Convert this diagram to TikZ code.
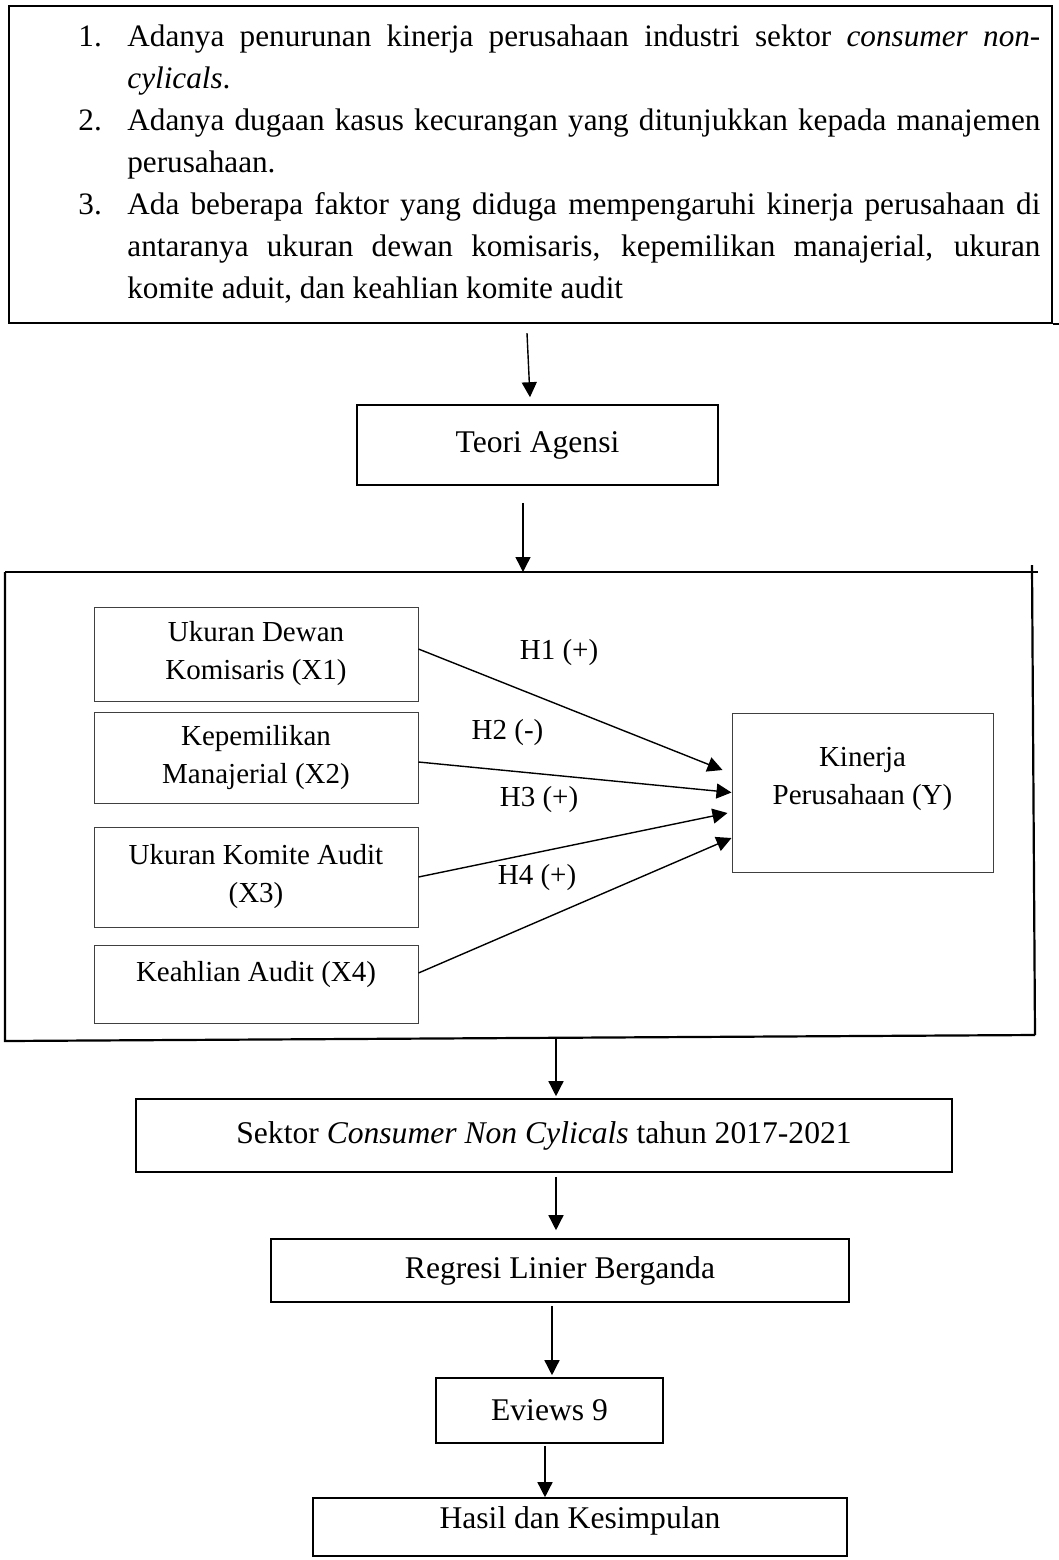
\documentclass[tikz,border=0pt]{standalone}
\usepackage{fontspec}
\setmainfont{Liberation Serif}
\usetikzlibrary{arrows.meta}

\begin{document}
\begin{tikzpicture}[x=0.5pt, y=-0.5pt,
    kotak/.style={draw, line width=0.8pt, inner sep=0pt, align=center, font=\fontsize{15.8}{19}\selectfont},
    variabel/.style={kotak, draw=black!75, line width=0.5pt, minimum width=162pt, font=\fontsize{14.5}{19}\selectfont},
    panah/.style={line width=0.7pt, -{Triangle[length=7.5pt, width=7.5pt]}},
    bingkai/.style={line width=1.1pt},
    hipotesis/.style={font=\fontsize{14.5}{19}\selectfont}]

    \useasboundingbox (0,0) rectangle (1059,1560);

    % Latar belakang masalah
    \node[draw, bingkai, minimum width=521.5pt, minimum height=158.5pt, inner sep=0pt] (masalah) at (530.5,164.5) {};
    \draw[bingkai] (masalah.south east) -- ++(7,0);
    \node[anchor=base west, text width=481pt, align=justify, inner sep=0pt, font=\fontsize{15.6}{21}\selectfont] (daftar) at (78,46) {%
        \hangindent=24.5pt\hangafter=1\makebox[24.5pt][l]{1.}Adanya penurunan kinerja perusahaan industri sektor \textit{consumer non-}\linebreak\textit{cylicals}.\par
        \hangindent=24.5pt\hangafter=1\makebox[24.5pt][l]{2.}Adanya dugaan kasus kecurangan yang ditunjukkan kepada manajemen\linebreak perusahaan.\par
        \hangindent=24.5pt\hangafter=1\makebox[24.5pt][l]{3.}Ada beberapa faktor yang diduga mempengaruhi kinerja perusahaan di\linebreak antaranya ukuran dewan komisaris, kepemilikan manajerial, ukuran\linebreak komite aduit, dan keahlian komite audit\par};

    \node[kotak, minimum width=180.5pt, minimum height=40pt] (teori) at (537.5,445) {Teori Agensi};

    % Bingkai variabel
    \draw[bingkai] (5,572) -- (1038,572);
    \draw[bingkai] (1032,565) -- (1035,1035);
    \draw[bingkai] (5,572) -- (5,1041) -- (1035,1035);
    \coordinate (bingkaiAtas) at (523,572);
    \coordinate (bingkaiBawah) at (556,1039);

    \node[variabel, minimum height=47pt] (x1) at (256,654) {Ukuran Dewan\\Komisaris (X1)};
    \node[variabel, minimum height=45.5pt] (x2) at (256,757.5) {Kepemilikan\\Manajerial (X2)};
    \node[variabel, minimum height=50pt] (x3) at (256,877) {Ukuran Komite Audit\\(X3)};
    \node[variabel, minimum height=39pt] (x4) at (256,984) {\raisebox{1.5pt}[0pt][0pt]{Keahlian Audit (X4)}};
    \node[variabel, minimum width=130.5pt, minimum height=79.5pt] (kinerja) at (862.5,792.5)
        {\raisebox{3.9pt}[0pt][0pt]{\begin{tabular}{@{}c@{}}Kinerja\\Perusahaan (Y)\end{tabular}}};

    % Hipotesis
    \draw[panah] ([yshift=2.5pt]x1.east) -- ([xshift=-4.5pt,yshift=11.25pt]kinerja.west);
    \draw[panah] ([yshift=-2.25pt]x2.east) -- (kinerja.west);
    \draw[panah] (x3.east) -- ([xshift=-2pt,yshift=-10.25pt]kinerja.west);
    \draw[panah] ([yshift=5.5pt]x4.east) -- ([yshift=-22.75pt]kinerja.west);
    \node[hipotesis] (h1) at (559,653) {H1 (+)};
    \node[hipotesis] (h2) at (507.5,733) {H2 (-)};
    \node[hipotesis] (h3) at (539,800) {H3 (+)};
    \node[hipotesis] (h4) at (537,878) {H4 (+)};

    % Alur penelitian
    \node[kotak, minimum width=408pt, minimum height=36.5pt] (sektor) at (544,1135.5) {Sektor \textit{Consumer Non Cylicals} tahun 2017-2021};
    \node[kotak, minimum width=289pt, minimum height=31.5pt] (regresi) at (560,1270.5) {Regresi Linier Berganda};
    \node[kotak, minimum width=113.5pt, minimum height=32.5pt] (eviews) at (549.5,1410.5) {Eviews 9};
    \node[kotak, minimum width=267pt, minimum height=29pt] (hasil) at (580,1527)
        {\raisebox{-0.5pt}[0pt][0pt]{Hasil dan Kesimpulan}};

    \draw[panah] ([xshift=-1.75pt,yshift=-4.5pt]masalah.south) -- ([xshift=-3.75pt,yshift=3.5pt]teori.north);
    \draw[panah] ([xshift=-7.25pt,yshift=-8.5pt]teori.south) -- (bingkaiAtas);
    \draw[panah] (bingkaiBawah) -- ([xshift=6pt,yshift=1pt]sektor.north);
    \draw[panah] ([xshift=6pt,yshift=-2pt]sektor.south) -- ([xshift=-2pt,yshift=4pt]regresi.north);
    \draw[panah] ([xshift=-4pt,yshift=-1.5pt]regresi.south) -- ([xshift=1.25pt,yshift=1pt]eviews.north);
    \draw[panah] ([xshift=-2.25pt,yshift=-1pt]eviews.south) -- ([xshift=-17.5pt]hasil.north);
\end{tikzpicture}
\end{document}
